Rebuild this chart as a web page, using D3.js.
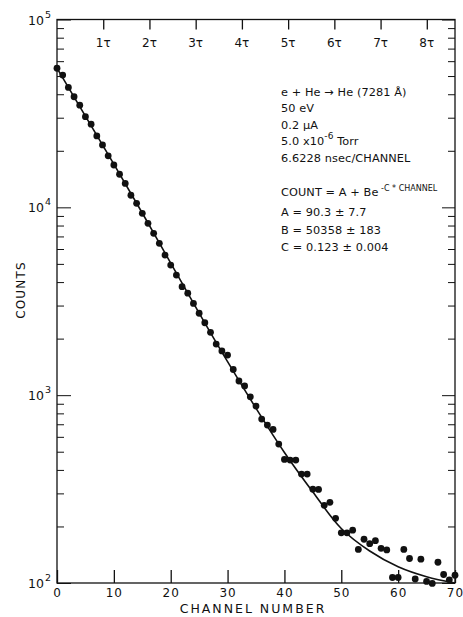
<!DOCTYPE html>
<html>
<head>
<meta charset="utf-8">
<script src="https://cdn.jsdelivr.net/npm/d3@7"></script>
<style>
  body { margin: 0; background: #fff; }
  svg text { font-family: "DejaVu Sans", sans-serif; fill: #111; }
  .axis path, .axis line { stroke: #111; }
</style>
</head>
<body>
<div id="chart"></div>
<script>
var channels = d3.range(0, 71);
var counts = [55000, 50600, 43500, 38800, 35000, 30400, 27700, 24000, 21500, 18800,
  16800, 15000, 13400, 11600, 10500, 9290, 8220, 7270, 6430, 5570,
  4930, 4360, 3780, 3490, 3080, 2730, 2430, 2160, 1870, 1720,
  1635, 1370, 1190, 1120, 980, 875, 746, 693, 657, 549,
  455, 451, 451, 380, 380, 316, 315, 259, 269, 221,
  185, 185, 191, 151, 171, 162, 168, 153, 150, 107,
  107, 151, 135, 105, 134, 102, 99.5, 129, 111, 104, 110];

// fitted curve as drawn in the figure
var fitChannels = [0, 5, 10, 15, 20, 25, 30, 35, 40, 45, 50, 55, 60, 65, 70];
var fitCounts = [55100, 30600, 17000, 9330, 5050, 2735, 1507, 851, 495, 305, 195, 148, 122, 108, 100];

var xTicks = [0, 10, 20, 30, 40, 50, 60, 70];
var yMajor = [100, 1000, 10000, 100000];
var yExp = ["2", "3", "4", "5"];
var tauNames = ["1\u03c4", "2\u03c4", "3\u03c4", "4\u03c4", "5\u03c4", "6\u03c4", "7\u03c4", "8\u03c4"];
var tauChannel = 1 / 0.123;

var infoLines = ["50 eV", "0.2 \u03bcA"];
var fitLines = ["A = 90.3 \u00b1 7.7", "B = 50358 \u00b1 183", "C = 0.123 \u00b1 0.004"];

var width = 463, height = 617;
var svg = d3.select("#chart").append("svg")
  .attr("width", width)
  .attr("height", height);
svg.append("rect").attr("width", width).attr("height", height).attr("fill", "#fff");

var x = d3.scaleLinear().domain([0, 70]).range([57, 455]);
var y = d3.scaleLog().domain([100, 100000]).range([583, 19.5]);

var minors = [];
yMajor.slice(0, 3).forEach(function(m) {
  for (var k = 2; k <= 9; k++) minors.push(m * k);
});

// frame
svg.append("rect")
  .attr("x", x(0)).attr("y", y(100000))
  .attr("width", x(70) - x(0)).attr("height", y(100) - y(100000))
  .attr("fill", "none").attr("stroke", "#111").attr("stroke-width", 1.3);

// bottom axis, ticks point inward
var gx = svg.append("g").attr("class", "axis")
  .attr("transform", "translate(0," + y(100) + ")")
  .call(d3.axisBottom(x).tickValues(xTicks).tickSize(-13).tickPadding(5).tickFormat(d3.format("d")));
gx.select(".domain").remove();
gx.selectAll("line").attr("stroke-width", 1.3);
gx.selectAll("text").attr("font-size", 12).attr("fill", "#111").attr("letter-spacing", 1);

// left axis majors and minors
var gl = svg.append("g").attr("class", "axis")
  .attr("transform", "translate(" + x(0) + ",0)")
  .call(d3.axisLeft(y).tickValues(yMajor).tickSize(-14).tickFormat(""));
gl.select(".domain").remove();
var glm = svg.append("g").attr("class", "axis")
  .attr("transform", "translate(" + x(0) + ",0)")
  .call(d3.axisLeft(y).tickValues(minors).tickSize(-7).tickFormat(""));
glm.select(".domain").remove();

// right axis
var gr = svg.append("g").attr("class", "axis")
  .attr("transform", "translate(" + x(70) + ",0)")
  .call(d3.axisRight(y).tickValues(yMajor).tickSize(-13).tickFormat(""));
gr.select(".domain").remove();
var grm = svg.append("g").attr("class", "axis")
  .attr("transform", "translate(" + x(70) + ",0)")
  .call(d3.axisRight(y).tickValues(minors).tickSize(-7).tickFormat(""));
grm.select(".domain").remove();

// top axis in lifetimes
var gt = svg.append("g").attr("class", "axis")
  .attr("transform", "translate(0," + y(100000) + ")")
  .call(d3.axisTop(x).tickValues(tauNames.map(function(d, i) { return (i + 1) * tauChannel; }))
    .tickSize(-10).tickFormat(""));
gt.select(".domain").remove();
gt.selectAll("line").attr("stroke-width", 1.3);

svg.append("g").selectAll("text")
  .data(tauNames)
  .enter().append("text")
  .attr("x", function(d, i) { return x((i + 1) * tauChannel); })
  .attr("y", 47)
  .attr("text-anchor", "middle")
  .attr("font-size", 12)
  .text(function(d) { return d; });

// y tick labels 10^n
var yl = svg.append("g").selectAll("text")
  .data(yMajor)
  .enter().append("text")
  .attr("x", 28)
  .attr("y", function(d) { return y(d) + 5; })
  .attr("font-size", 12.5);
yl.append("tspan").text("10");
yl.append("tspan").attr("dy", -7).attr("dx", 1).attr("font-size", 9.5)
  .text(function(d, i) { return yExp[i]; });

// axis titles
svg.append("text")
  .attr("transform", "translate(25,290) rotate(-90)")
  .attr("text-anchor", "middle")
  .attr("font-size", 12)
  .attr("letter-spacing", 1.2)
  .text("COUNTS");
svg.append("text")
  .attr("x", 253).attr("y", 613)
  .attr("text-anchor", "middle")
  .attr("font-size", 12.5)
  .attr("letter-spacing", 2)
  .text("CHANNEL NUMBER");

// fitted curve
var line = d3.line()
  .x(function(d, i) { return x(fitChannels[i]); })
  .y(function(d) { return y(d); })
  .curve(d3.curveCatmullRom);
svg.append("path")
  .datum(fitCounts)
  .attr("d", line)
  .attr("fill", "none")
  .attr("stroke", "#111")
  .attr("stroke-width", 1.6);

// data points
svg.append("g").selectAll("circle")
  .data(counts)
  .enter().append("circle")
  .attr("cx", function(d, i) { return x(channels[i]); })
  .attr("cy", function(d) { return y(d); })
  .attr("r", 3.4)
  .attr("fill", "#111");

// annotation block
var tx = 281, fs = 11.3, ls = 0.1;
var ann = svg.append("g").attr("font-size", fs).attr("letter-spacing", ls);
ann.append("text").attr("x", tx).attr("y", 96).text("e + He \u2192 He (7281 \u00c5)");
ann.selectAll("text.info")
  .data(infoLines)
  .enter().append("text").attr("class", "info")
  .attr("x", tx)
  .attr("y", function(d, i) { return 112 + i * 16.5; })
  .text(function(d) { return d; });
var torr = ann.append("text").attr("x", tx).attr("y", 145);
torr.append("tspan").text("5.0 x10");
torr.append("tspan").attr("dy", -6).attr("font-size", 9).text("-6");
torr.append("tspan").attr("dy", 6).text(" Torr");
ann.append("text").attr("x", tx).attr("y", 162).text("6.6228 nsec/CHANNEL");
var eq = ann.append("text").attr("x", tx).attr("y", 196);
eq.append("tspan").text("COUNT = A + Be");
eq.append("tspan").attr("dy", -5).attr("font-size", 8).attr("letter-spacing", 0).text(" -C * CHANNEL");
ann.selectAll("text.fit")
  .data(fitLines)
  .enter().append("text").attr("class", "fit")
  .attr("x", tx)
  .attr("y", function(d, i) { return 216 + i * 17.5; })
  .text(function(d) { return d; });
</script>
</body>
</html>
